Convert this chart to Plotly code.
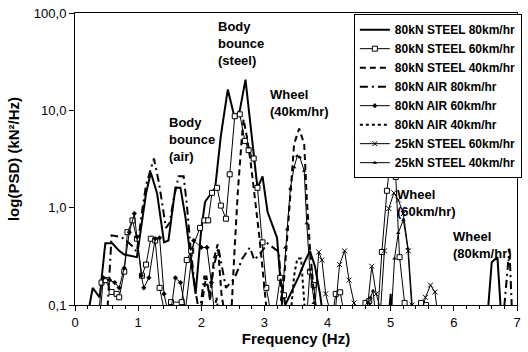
import math
import plotly.graph_objects as go

# Spectral density curves, PSD in kN^2/Hz versus frequency in Hz
freq_a = [0.17, 0.28, 0.39, 0.48, 0.59, 0.70, 0.78, 0.91, 0.98, 1.125, 1.20, 1.30, 1.41, 1.48,
          1.59, 1.67, 1.75, 1.83, 1.91, 2.00, 2.06, 2.22, 2.31, 2.42, 2.53, 2.61, 2.70, 2.78,
          2.84, 2.89, 2.97, 3.05, 3.20, 3.25, 3.33, 3.44, 3.55, 3.63, 3.72, 3.80, 3.88, 3.95,
          4.95, 5.00, 5.03, 6.52, 6.60, 6.69, 6.76]
psd_a = [0.06, 0.15, 0.12, 0.43, 0.43, 0.36, 0.33, 0.32, 0.31, 1.4, 2.3, 1.4, 0.44, 0.46,
         1.6, 1.6, 0.79, 0.31, 0.13, 0.6, 1.15, 1.6, 5.5, 16.4, 8.3, 10.0, 20.7, 7.0,
         3.0, 1.6, 2.1, 0.9, 0.49, 0.19, 0.1, 0.14, 0.2, 0.27, 0.36, 0.25, 0.13, 0.06,
         0.06, 0.13, 0.06, 0.06, 0.275, 0.31, 0.06]

freq_b = [0.36, 0.42, 0.48, 0.58, 0.66, 0.70, 0.78, 0.83, 0.91, 0.98, 1.06, 1.125, 1.20, 1.27,
          1.34, 1.41, 1.52, 1.69, 1.77, 1.84, 1.98, 2.05, 2.11, 2.17, 2.25, 2.31, 2.39, 2.45,
          2.53, 2.61, 2.69, 2.75, 2.83, 2.89, 2.97, 3.03, 3.14, 3.25, 3.31, 3.40, 3.66, 3.72,
          3.78, 3.86, 4.05, 4.13, 4.20, 4.30, 4.55, 4.60, 4.66, 4.78, 4.86, 4.94, 5.00, 5.08,
          5.14, 5.22, 5.32, 5.48, 5.56, 5.64]
psd_b = [0.06, 0.17, 0.18, 0.136, 0.13, 0.12, 0.22, 0.56, 0.74, 0.48, 0.20, 0.26, 0.48, 0.46,
         0.15, 0.09, 0.107, 0.107, 0.29, 0.36, 0.62, 0.74, 0.74, 1.42, 1.6, 1.05, 0.77, 2.2,
         8.7, 9.1, 4.85, 3.9, 3.2, 1.6, 0.44, 0.15, 0.06, 0.19, 0.126, 0.06, 0.06, 0.22,
         0.16, 0.06, 0.06, 0.13, 0.135, 0.06, 0.06, 0.105, 0.11, 0.06, 0.35, 1.49, 3.4, 2.07,
         0.31, 0.105, 0.06, 0.105, 0.1, 0.06]

freq_c = [1.95, 2.03, 2.08, 2.14, 2.20, 2.26, 2.32, 2.40, 2.47, 2.53, 2.58, 2.64, 2.67, 2.73,
          2.78, 2.84, 2.92, 3.00, 3.06, 3.20, 3.25, 3.31, 3.36, 3.41, 3.47, 3.55, 3.63, 3.67,
          3.72, 3.78, 3.84]
psd_c = [0.06, 0.12, 0.2, 0.11, 0.3, 0.42, 0.13, 0.06, 0.07, 0.4, 1.5, 5.0, 8.1, 5.0,
         3.0, 1.4, 0.5, 0.15, 0.06, 0.06, 0.105, 0.18, 0.49, 1.27, 4.5, 6.5, 4.5, 1.27,
         0.39, 0.14, 0.06]

freq_d = [0.50, 0.58, 0.73, 0.83, 0.91, 0.98, 1.06, 1.125, 1.25, 1.33, 1.44, 1.50, 1.56, 1.64,
          1.72, 1.77, 1.83, 1.90, 1.97, 2.05, 2.13, 2.20, 2.27, 2.39, 2.53, 2.65, 2.77, 2.84,
          2.95, 3.05, 3.23, 3.30, 6.77, 6.88, 6.93]
psd_d = [0.06, 0.52, 0.5, 0.45, 0.4, 0.35, 0.9, 1.7, 3.2, 1.8, 0.62, 0.7, 1.2, 2.1,
         2.1, 1.1, 0.39, 0.15, 0.08, 0.2, 0.13, 0.25, 0.39, 0.15, 0.19, 0.3, 0.39, 0.29,
         0.35, 0.43, 0.35, 0.06, 0.06, 0.38, 0.06]

freq_e = [0.38, 0.45, 0.55, 0.63, 0.70, 0.78, 0.86, 0.94, 0.98, 1.05, 1.09, 1.17, 1.27, 1.34,
          1.41, 1.50, 1.59, 1.67, 1.75, 1.88, 2.00, 2.09, 2.16, 2.22]
psd_e = [0.06, 0.19, 0.18, 0.17, 0.15, 0.24, 0.56, 0.87, 0.5, 0.2, 0.15, 0.19, 0.48, 0.49,
         0.13, 0.07, 0.19, 0.17, 0.09, 0.46, 0.39, 0.39, 0.17, 0.07]

freq_f = [2.18, 2.24, 2.30, 3.40, 3.47, 3.52, 3.58, 3.62, 3.66]
psd_f = [0.06, 0.12, 0.06, 0.06, 0.2, 0.3, 0.3, 0.15, 0.06]

freq_g = [3.78, 3.86, 3.91, 3.97, 4.10, 4.19, 4.27, 4.34, 4.42, 4.55, 4.64, 4.70, 4.77, 4.84,
          4.90, 4.97, 5.05, 5.12, 5.20, 5.28, 5.34, 5.44, 5.55, 5.63, 5.70, 5.77]
psd_g = [0.06, 0.35, 0.29, 0.13, 0.06, 0.26, 0.36, 0.18, 0.105, 0.06, 0.107, 0.25, 0.13, 0.09,
         0.36, 0.98, 1.42, 1.2, 0.87, 0.36, 0.1, 0.06, 0.12, 0.16, 0.136, 0.06]

freq_h = [3.25, 3.33, 3.36, 3.41, 3.47, 3.52, 3.56, 3.63, 3.67, 3.72, 3.78, 3.84, 4.62, 4.68,
          4.72, 4.78, 5.00, 5.06, 5.12, 5.20, 5.27, 5.33, 5.38]
psd_h = [0.06, 0.39, 0.6, 1.57, 2.6, 3.4, 3.3, 2.4, 0.69, 0.23, 0.105, 0.06, 0.06, 0.12,
         0.14, 0.06, 0.06, 0.3, 0.55, 0.75, 0.38, 0.1, 0.06]

series_names = ["80kN STEEL 80km/hr", "80kN STEEL 60km/hr", "80kN STEEL 40km/hr",
                "80kN AIR 80km/hr", "80kN AIR 60km/hr", "80kN AIR 40km/hr",
                "25kN STEEL 60km/hr", "25kN STEEL 40km/hr"]

y_tick_vals = [0.1, 1, 10, 100]
y_tick_text = ["0,1", "1,0", "10,0", "100,0"]
x_tick_vals = [0, 1, 2, 3, 4, 5, 6, 7]

peak_labels = ["Body<br>bounce<br>(steel)", "Body<br>bounce<br>(air)",
               "Wheel<br>(40km/hr)", "Wheel<br>(60km/hr)", "Wheel<br>(80km/hr)"]
peak_label_freq = [2.23, 1.45, 3.05, 5.06, 5.95]
peak_label_psd = [92.0, 9.3, 18.0, 1.7, 0.64]

FONT = "Liberation Sans"
BLACK = "#000000"

styles = [
    dict(line=dict(color=BLACK, width=2), mode="lines"),
    dict(line=dict(color=BLACK, width=1), mode="lines+markers",
         marker=dict(symbol="square", size=5, color="white", line=dict(color=BLACK, width=1))),
    dict(line=dict(color=BLACK, width=2, dash="6px,4px"), mode="lines"),
    dict(line=dict(color=BLACK, width=2, dash="8px,4px,2px,4px"), mode="lines"),
    dict(line=dict(color=BLACK, width=1), mode="lines+markers",
         marker=dict(symbol="diamond", size=4, color=BLACK)),
    dict(line=dict(color=BLACK, width=2, dash="3px,3px"), mode="lines"),
    dict(line=dict(color=BLACK, width=1), mode="lines+markers",
         marker=dict(symbol="x-thin", size=5, line=dict(color=BLACK, width=1))),
    dict(line=dict(color=BLACK, width=1), mode="lines+markers",
         marker=dict(symbol="triangle-up", size=4, color=BLACK)),
]

freqs = [freq_a, freq_b, freq_c, freq_d, freq_e, freq_f, freq_g, freq_h]
psds = [psd_a, psd_b, psd_c, psd_d, psd_e, psd_f, psd_g, psd_h]

fig = go.Figure()
for name, f, p, st in zip(series_names, freqs, psds, styles):
    fig.add_trace(go.Scatter(x=f, y=p, name=name, cliponaxis=True, **st))

for text, fx, py in zip(peak_labels, peak_label_freq, peak_label_psd):
    fig.add_annotation(x=fx, y=math.log10(py), xref="x", yref="y", text="<b>" + text + "</b>",
                       showarrow=False, xanchor="left", yanchor="top", align="left",
                       font=dict(family=FONT, size=13, color=BLACK))

fig.update_layout(
    width=528, height=352,
    margin=dict(l=75, r=6, t=11, b=47),
    paper_bgcolor="white", plot_bgcolor="white",
    showlegend=True,
    legend=dict(x=1.011, xanchor="right", y=0.996, yanchor="top",
                bgcolor="white", bordercolor=BLACK, borderwidth=1,
                font=dict(family=FONT, size=12, color=BLACK, weight="bold"),
                tracegroupgap=0, itemwidth=30),
    xaxis=dict(range=[0, 7], tickvals=x_tick_vals, ticks="outside", ticklen=5,
               tickcolor=BLACK, showline=True, linecolor=BLACK, linewidth=1, mirror=True,
               showgrid=False, zeroline=False,
               minor=dict(dtick=0.2, ticks="outside", ticklen=3, tickcolor=BLACK, showgrid=False),
               tickfont=dict(family=FONT, size=13, color=BLACK),
               title=dict(text="<b>Frequency (Hz)</b>", standoff=2,
                          font=dict(family=FONT, size=15, color=BLACK))),
    yaxis=dict(type="log", range=[-1, 2], tickvals=y_tick_vals, ticktext=y_tick_text,
               ticks="outside", ticklen=5, tickcolor=BLACK,
               showline=True, linecolor=BLACK, linewidth=1, mirror=True,
               showgrid=False, zeroline=False,
               tickfont=dict(family=FONT, size=13, color=BLACK),
               title=dict(text="<b>log(PSD) (kN²/Hz)</b>", standoff=10,
                          font=dict(family=FONT, size=15, color=BLACK))),
    yaxis2=dict(type="log", range=[-1, 2], overlaying="y", anchor="x", side="left",
                tickvals=y_tick_vals, ticks="inside", ticklen=5, tickcolor=BLACK,
                showticklabels=False, showgrid=False, zeroline=False, showline=False),
)

fig.write_html("out.html")
